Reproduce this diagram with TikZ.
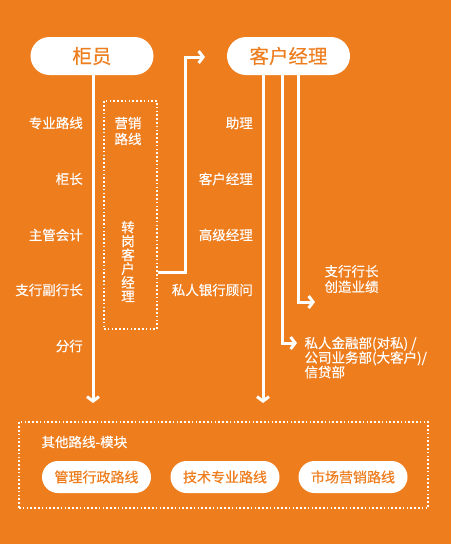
\documentclass[tikz,border=0pt]{standalone}
\usepackage{fontspec}
\newfontfamily\cjk[FakeBold=0.3]{Noto Sans CJK SC}
\usetikzlibrary{arrows.meta,calc,positioning}
\definecolor{Brand}{HTML}{EE7D1E}
\definecolor{Paper}{HTML}{FFFFFF}

\begin{document}
\begin{tikzpicture}[x=1pt,y=-1pt,every node/.style={font=\cjk\fontsize{13.5}{15}\selectfont,text=Paper},pill/.style={fill=Paper,rounded corners=16pt,text=Brand,inner sep=0pt},lbl/.style={anchor=east,inner sep=3pt},dotbox/.style={draw=Paper,line width=1.4pt,dash pattern=on 1.6pt off 2.2pt,inner sep=0pt},flow/.style={-{Straight Barb[length=4.5pt,width=12pt]},line width=3pt,draw=Paper}]
\fill[Brand] (0,0) rectangle (451,544);

\node[pill,rounded corners=19pt,minimum width=123pt,minimum height=38pt,font=\cjk\fontsize{19.5}{21}\selectfont] (guiyuan) at (92,56) {柜员};
\node[pill,rounded corners=19pt,minimum width=123pt,minimum height=38pt,font=\cjk\fontsize{19.5}{21}\selectfont] (kehujingli) at (288.5,56) {客户经理};
\node[lbl] (zhuanye) at (86,123) {专业路线}; \node[lbl] (guizhang) at (86,179) {柜长}; \node[lbl] (kuaiji) at (86,235) {主管会计}; \node[lbl] (fuhangzhang) at (86,290) {支行副行长}; \node[lbl] (fenhang) at (86,346) {分行};
\node[lbl] (zhuli) at (256,123) {助理}; \node[lbl] (jingli) at (256,179) {客户经理}; \node[lbl] (gaoji) at (256,235) {高级经理}; \node[lbl] (guwen) at (256,290) {私人银行顾问};

\node[dotbox,minimum width=53pt,minimum height=228pt] (zhuangang) at (130.5,215) {};
\node[align=center,font=\cjk\fontsize{13.5}{16}\selectfont] (yingxiao) at (128,131) {营销\\路线};
\node[align=center,font=\cjk\fontsize{13.5}{13.8}\selectfont] (zhuanganglbl) at (128,261.5) {转\\岗\\客\\户\\经\\理};

\coordinate (gyend) at (93,403); \coordinate (kjend) at (263,403); \coordinate (turn) at (205,57); \coordinate (hzend) at (315,302); \coordinate (bmend) at (297,343);
\draw[flow] (guiyuan.south -| gyend) -- (gyend);
\draw[flow] (kehujingli.south -| kjend) -- (kjend);
\draw[flow] ([xshift=-6.5pt]kehujingli.south) |- (bmend);
\draw[flow] ([xshift=9.5pt]kehujingli.south) |- (hzend);
\draw[flow] ([yshift=-57pt]zhuangang.east) -| ($(turn)+(-20,0)$) -- (turn);
\node[anchor=west,align=left,font=\cjk\fontsize{13.5}{15.5}\selectfont] (hangzhang) at (321,279) {支行行长\\创造业绩};
\node[anchor=west,align=left,font=\cjk\fontsize{13.5}{14.5}\selectfont] (bumen) at (301,357.5) {私人金融部(对私) /\\公司业务部(大客户)/\\信贷部};

\node[dotbox,minimum width=409pt,minimum height=86pt] (qita) at (223.5,465) {};
\node[anchor=west] (qitalbl) at (38,442) {其他路线-模块};
\node[pill,minimum width=109pt,minimum height=32pt,font=\cjk\fontsize{14}{15}\selectfont] (xingzheng) at (96.5,477) {管理行政路线};
\node[pill,minimum width=109pt,minimum height=32pt,font=\cjk\fontsize{14}{15}\selectfont] (jishu) at (225,477) {技术专业路线};
\node[pill,minimum width=109pt,minimum height=32pt,font=\cjk\fontsize{14}{15}\selectfont] (shichang) at (353,477) {市场营销路线};

\end{tikzpicture}
\end{document}
